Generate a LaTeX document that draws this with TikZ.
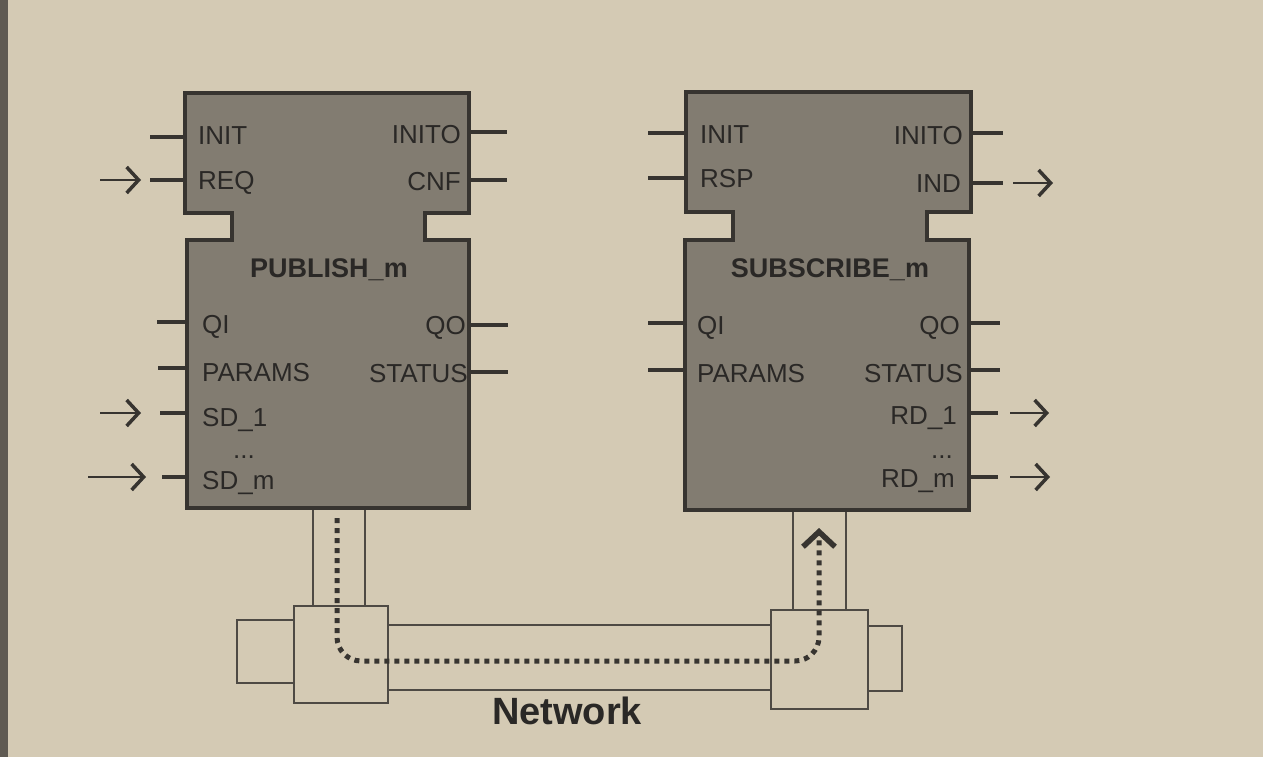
\documentclass[tikz,border=0pt]{standalone}
\usepackage{fontspec}
\setmainfont{Liberation Sans}
\usetikzlibrary{arrows.meta}
\definecolor{bg}{RGB}{212,202,180}
\definecolor{edge}{RGB}{95,90,82}
\definecolor{blkfill}{RGB}{130,124,113}
\definecolor{ink}{RGB}{55,52,48}
\definecolor{txt}{RGB}{42,40,38}
\definecolor{netline}{RGB}{78,74,68}
\begin{document}
\begin{tikzpicture}[x=1pt,y=-1pt,
  blk/.style={draw=ink, line width=4pt, fill=blkfill, line join=miter},
  pin/.style={draw=ink, line width=4pt},
  sig/.style={draw=ink, line width=2pt, -{Straight Barb[length=12pt,width=26pt,line width=3.5pt]}},
  lbl/.style={font=\fontsize{26}{30}\selectfont, text=txt, inner sep=0pt},
  title/.style={font=\bfseries\fontsize{27}{30}\selectfont, text=txt, inner sep=0pt},
  net/.style={draw=netline, line width=2pt, fill=bg},
  netv/.style={draw=netline, line width=2pt},
  flow/.style={draw=ink, line width=5pt, dash pattern=on 5pt off 5pt, rounded corners=24pt,
    -{Straight Barb[length=15pt,width=32pt,line width=5.5pt]}}
]
\useasboundingbox (0,0) rectangle (1263,757);
\fill[bg] (0,0) rectangle (1263,757);
\fill[edge] (0,0) rectangle (8,757);

% ---------- PUBLISH block ----------
\draw[blk] (185,93) -- (469,93) -- (469,213) -- (425,213) -- (425,240) -- (469,240)
  -- (469,508) -- (187,508) -- (187,240) -- (232,240) -- (232,213) -- (185,213) -- cycle;
\node[title, anchor=base] (pubT) at (329,277) {PUBLISH\_m};
\node[lbl, anchor=base west] (pInit)   at (198,144) {INIT};
\node[lbl, anchor=base west] (pReq)    at (198,189) {REQ};
\node[lbl, anchor=base east] (pInito)  at (461,143) {INITO};
\node[lbl, anchor=base east] (pCnf)    at (461,190) {CNF};
\node[lbl, anchor=base west] (pQi)     at (202,333) {QI};
\node[lbl, anchor=base west] (pParams) at (202,381) {PARAMS};
\node[lbl, anchor=base west] (pSd1)    at (202,426) {SD\_1};
\node[lbl, anchor=base west] (pDots)   at (233,458) {...};
\node[lbl, anchor=base west] (pSdm)    at (202,489) {SD\_m};
\node[lbl, anchor=base east] (pQo)     at (466,334) {QO};
\node[lbl, anchor=base east] (pStatus) at (468,382) {STATUS};

\coordinate (pInitA) at (150,137);   \coordinate (pInitB) at (185,137);
\coordinate (pReqA) at (150,180);    \coordinate (pReqB) at (185,180);
\coordinate (pQiA) at (157,322);     \coordinate (pQiB) at (187,322);
\coordinate (pParA) at (158,368);    \coordinate (pParB) at (187,368);
\coordinate (pSd1A) at (160,413);    \coordinate (pSd1B) at (187,413);
\coordinate (pSdmA) at (162,477);    \coordinate (pSdmB) at (187,477);
\coordinate (pInitoA) at (469,132);  \coordinate (pInitoB) at (507,132);
\coordinate (pCnfA) at (469,180);    \coordinate (pCnfB) at (507,180);
\coordinate (pQoA) at (469,325);     \coordinate (pQoB) at (508,325);
\coordinate (pStA) at (469,372);     \coordinate (pStB) at (508,372);
\foreach \a/\b in {pInitA/pInitB,pReqA/pReqB,pQiA/pQiB,pParA/pParB,pSd1A/pSd1B,pSdmA/pSdmB,
  pInitoA/pInitoB,pCnfA/pCnfB,pQoA/pQoB,pStA/pStB}
  \draw[pin] (\a) -- (\b);

\coordinate (aReqS) at (100,180); \coordinate (aReqE) at (141,180);
\coordinate (aSd1S) at (100,413); \coordinate (aSd1E) at (141,413);
\coordinate (aSdmS) at (88,477);  \coordinate (aSdmE) at (146,477);
\draw[sig] (aReqS) -- (aReqE);
\draw[sig] (aSd1S) -- (aSd1E);
\draw[sig] (aSdmS) -- (aSdmE);

% ---------- SUBSCRIBE block ----------
\draw[blk] (686,92) -- (971,92) -- (971,212) -- (927,212) -- (927,240) -- (969,240)
  -- (969,510) -- (685,510) -- (685,240) -- (733,240) -- (733,212) -- (686,212) -- cycle;
\node[title, anchor=base] (subT) at (830,277) {SUBSCRIBE\_m};
\node[lbl, anchor=base west] (sInit)   at (700,143) {INIT};
\node[lbl, anchor=base west] (sRsp)    at (700,187) {RSP};
\node[lbl, anchor=base east] (sInito)  at (963,144) {INITO};
\node[lbl, anchor=base east] (sInd)    at (961,192) {IND};
\node[lbl, anchor=base west] (sQi)     at (697,334) {QI};
\node[lbl, anchor=base west] (sParams) at (697,382) {PARAMS};
\node[lbl, anchor=base east] (sQo)     at (960,334) {QO};
\node[lbl, anchor=base east] (sStatus) at (963,382) {STATUS};
\node[lbl, anchor=base east] (sRd1)    at (957,424) {RD\_1};
\node[lbl, anchor=base east] (sDots)   at (953,458) {...};
\node[lbl, anchor=base east] (sRdm)    at (955,487) {RD\_m};

\coordinate (sInitA) at (648,133);  \coordinate (sInitB) at (686,133);
\coordinate (sRspA) at (648,178);   \coordinate (sRspB) at (686,178);
\coordinate (sQiA) at (648,323);    \coordinate (sQiB) at (685,323);
\coordinate (sParA) at (648,370);   \coordinate (sParB) at (685,370);
\coordinate (sInitoA) at (971,133); \coordinate (sInitoB) at (1003,133);
\coordinate (sIndA) at (971,183);   \coordinate (sIndB) at (1003,183);
\coordinate (sQoA) at (969,323);    \coordinate (sQoB) at (1000,323);
\coordinate (sStA) at (969,370);    \coordinate (sStB) at (1000,370);
\coordinate (sRd1A) at (969,413);   \coordinate (sRd1B) at (998,413);
\coordinate (sRdmA) at (969,477);   \coordinate (sRdmB) at (998,477);
\foreach \a/\b in {sInitA/sInitB,sRspA/sRspB,sQiA/sQiB,sParA/sParB,sInitoA/sInitoB,
  sIndA/sIndB,sQoA/sQoB,sStA/sStB,sRd1A/sRd1B,sRdmA/sRdmB}
  \draw[pin] (\a) -- (\b);

\coordinate (aIndS) at (1013,183); \coordinate (aIndE) at (1053,183);
\coordinate (aRd1S) at (1010,413); \coordinate (aRd1E) at (1049,413);
\coordinate (aRdmS) at (1010,477); \coordinate (aRdmE) at (1050,477);
\draw[sig] (aIndS) -- (aIndE);
\draw[sig] (aRd1S) -- (aRd1E);
\draw[sig] (aRdmS) -- (aRdmE);

% ---------- Network ----------
\draw[net] (388,625) rectangle (771,690);
\draw[net] (237,620) rectangle (294,683);
\draw[net] (868,626) rectangle (902,691);
\draw[net] (294,606) rectangle (388,703);
\draw[net] (771,610) rectangle (868,709);
\draw[netv] (313,510) -- (313,606);
\draw[netv] (365,510) -- (365,606);
\draw[netv] (793,512) -- (793,610);
\draw[netv] (846,512) -- (846,610);

\coordinate (fS) at (337,518);
\coordinate (fC1) at (337,661);
\coordinate (fC2) at (819,661);
\coordinate (fE) at (819,528);
\draw[flow] (fS) -- (fC1) -- (fC2) -- (fE);

\node[font=\bfseries\fontsize{38}{40}\selectfont, text=txt, inner sep=0pt, anchor=base] (netT) at (567,724) {Network};
\end{tikzpicture}
\end{document}
